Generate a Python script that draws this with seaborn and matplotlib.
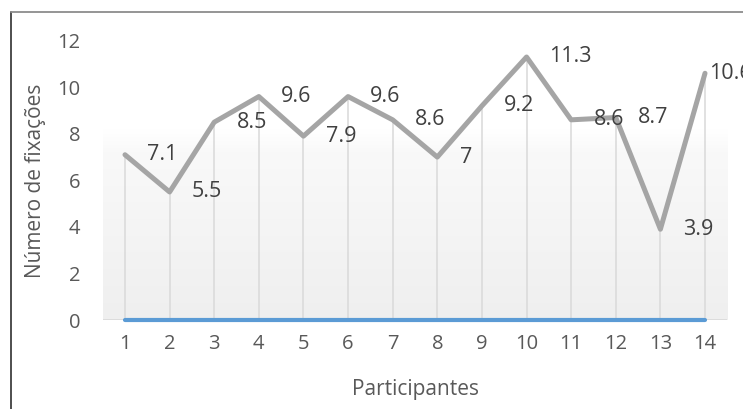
import numpy as np
import pandas as pd
import matplotlib
matplotlib.use("Agg")
import matplotlib.pyplot as plt
from matplotlib.lines import Line2D
from matplotlib.colors import LinearSegmentedColormap
import seaborn as sns

# Mean number of fixations per participant
participants = list(range(1, 15))
fixations = [7.1, 5.5, 8.5, 9.6, 7.9, 9.6, 8.6, 7.0, 9.2, 11.3, 8.6, 8.7, 3.9, 10.6]
baseline = [0] * 14
y_ticks = [0, 2, 4, 6, 8, 10, 12]

df = pd.DataFrame({"Participante": participants,
                   "Fixações": fixations,
                   "Base": baseline})

sns.set_theme(style="white")
plt.rcParams["font.family"] = ["Open Sans", "DejaVu Sans"]

fig = plt.figure(figsize=(7.43, 4.09), dpi=100)
ax = fig.add_axes([0.1382, 0.2176, 0.8407, 0.6829])

ax.set_xlim(0.5, 14.5)
ax.set_ylim(0, 12)

# soft vertical gradient behind the lower part of the plot area
fade = LinearSegmentedColormap.from_list(
    "fade", [(0.0, "#efefef"), (0.6, "#f9f9f9"), (0.68, "#ffffff"), (1.0, "#ffffff")])
grad = np.linspace(0, 1, 256).reshape(-1, 1)
ax.imshow(grad, cmap=fade, vmin=0, vmax=1, aspect="auto",
          extent=[0.5, 14.5, 0, 12], origin="lower", zorder=0)

# drop lines from each point to the axis
ax.vlines(df["Participante"], 0, df["Fixações"], color="#d9d9d9", lw=1.1, zorder=1)
ax.axhline(0, color="#d9d9d9", lw=1.2, zorder=1)

sns.lineplot(data=df, x="Participante", y="Fixações", ax=ax,
             color="#a5a5a5", lw=3.6, zorder=3)
sns.lineplot(data=df, x="Participante", y="Base", ax=ax,
             color="#5b9bd5", lw=3.0, zorder=4, clip_on=False)

# value labels to the right of each point
for i, (x, v) in enumerate(zip(participants, fixations)):
    last = i == len(participants) - 1
    ax.annotate(f"{v:g}", (x, v), xytext=(3 if last else 16, 0),
                textcoords="offset points", ha="left", va="center",
                fontsize=15.5, color="#404040", zorder=5,
                annotation_clip=False)

ax.set_xticks(participants)
ax.set_yticks(y_ticks)
ax.tick_params(axis="both", length=0, labelsize=14.5, labelcolor="#595959")
ax.tick_params(axis="y", pad=16)
ax.tick_params(axis="x", pad=10)

ax.set_xlabel("Participantes", fontsize=15, color="#595959", labelpad=18)
ax.set_ylabel("Número de fixações", fontsize=15, color="#595959", labelpad=8)

for s in ax.spines.values():
    s.set_visible(False)

# chart area border
fig.add_artist(Line2D([11 / 743, 11 / 743], [0, 1 - 12 / 409],
                      transform=fig.transFigure, color="#404040", lw=1.3))
fig.add_artist(Line2D([11 / 743, 1], [1 - 12 / 409, 1 - 12 / 409],
                      transform=fig.transFigure, color="#8c8c8c", lw=1.3))

fig.savefig("out.png", dpi=100)
